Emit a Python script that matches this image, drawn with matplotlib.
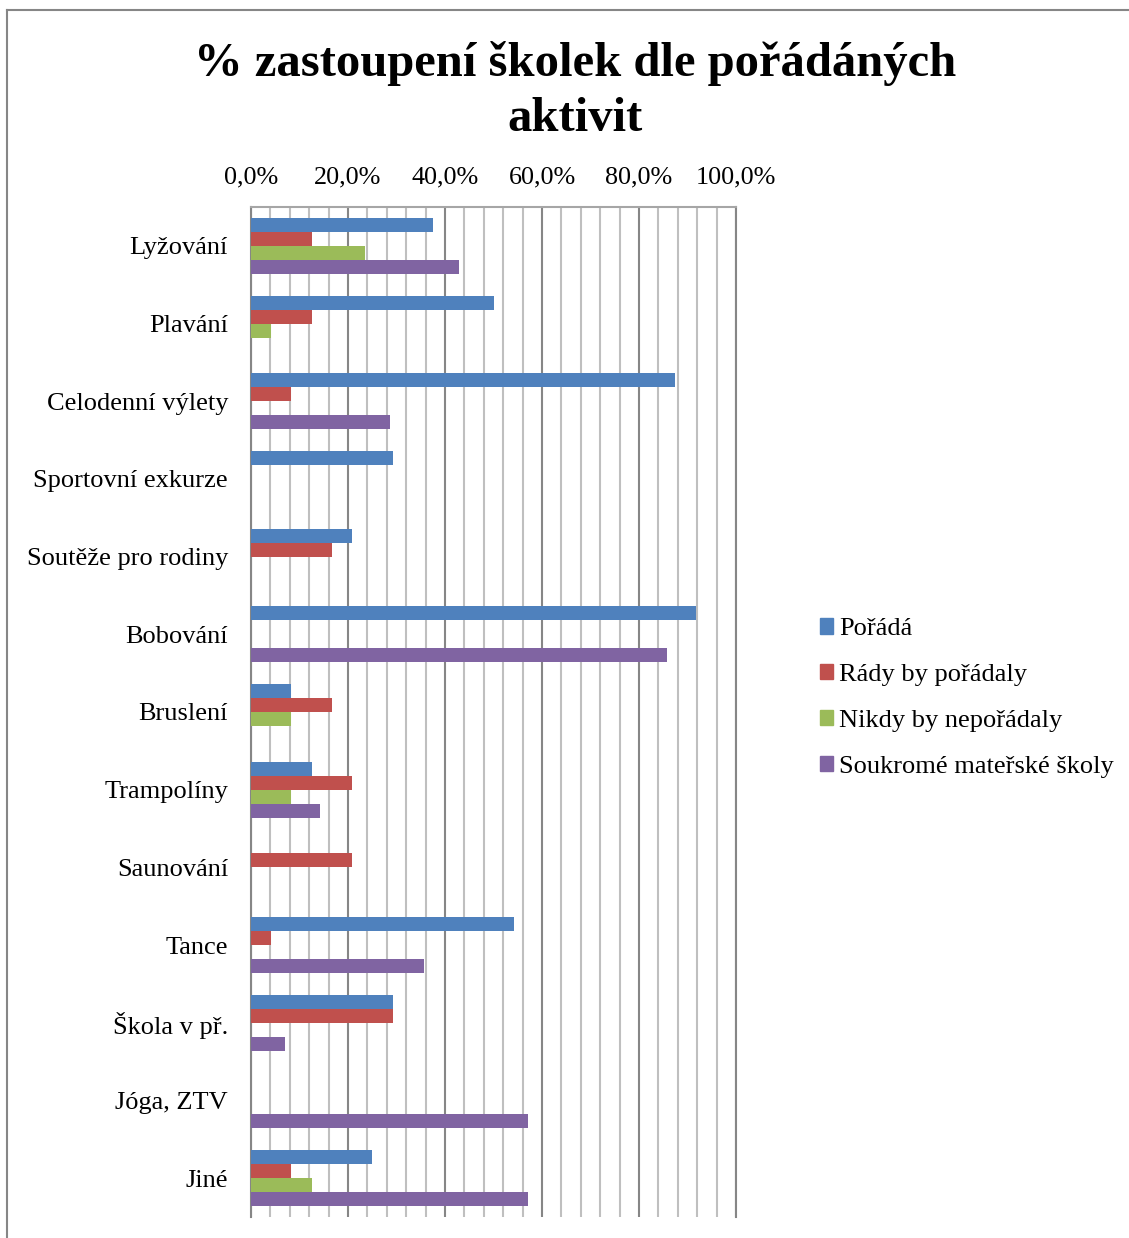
import numpy as np
import matplotlib
matplotlib.use("Agg")
import matplotlib.pyplot as plt
from matplotlib.lines import Line2D
from matplotlib.ticker import MultipleLocator, FuncFormatter

plt.rcParams['font.family'] = ['Liberation Serif', 'DejaVu Serif']

# ---- data (percent) ----
categories = ["Lyžování", "Plavání", "Celodenní výlety", "Sportovní exkurze",
              "Soutěže pro rodiny", "Bobování", "Bruslení", "Trampolíny",
              "Saunování", "Tance", "Škola v př.", "Jóga, ZTV", "Jiné"]
series_names = ["Pořádá", "Rády by pořádaly", "Nikdy by nepořádaly",
                "Soukromé mateřské školy"]
porada = [37.5, 50.0, 87.5, 29.2, 20.8, 91.7, 8.3, 12.5, 0, 54.2, 29.2, 0, 25.0]
rady = [12.5, 12.5, 8.3, 0, 16.7, 0, 16.7, 20.8, 20.8, 4.2, 29.2, 0, 8.3]
nikdy = [23.5, 4.2, 0, 0, 0, 0, 8.3, 8.3, 0, 0, 0, 0, 12.5]
soukrome = [42.9, 0, 28.6, 0, 0, 85.7, 0, 14.3, 0, 35.7, 7.1, 57.1, 57.1]
colors = ["#4F81BD", "#C0504D", "#9BBB59", "#8064A2"]

W, H = 1129, 1238
fig = plt.figure(figsize=(W / 100, H / 100), dpi=100)
ax = fig.add_axes([251 / W, 1 - 1217 / H, 485 / W, (1217 - 207) / H])

y = np.arange(len(categories))
bar_h = 0.18
offsets = [-0.27, -0.09, 0.09, 0.27]
for vals, off, col, name in zip([porada, rady, nikdy, soukrome], offsets, colors, series_names):
    ax.barh(y + off, vals, height=bar_h, color=col, label=name, linewidth=0, zorder=3)

ax.set_xlim(0, 100)
ax.set_ylim(len(categories) - 0.5, -0.5)

# gridlines
ax.xaxis.set_major_locator(MultipleLocator(20))
ax.xaxis.set_minor_locator(MultipleLocator(4))
ax.grid(True, axis='x', which='minor', color='#bfbfbf', linewidth=1.5, zorder=1)
ax.grid(True, axis='x', which='major', color='#868686', linewidth=1.5, zorder=1)

ax.xaxis.tick_top()
ax.xaxis.set_major_formatter(FuncFormatter(lambda v, p: f"{v:.1f}%".replace('.', ',')))
ax.tick_params(axis='x', which='both', length=0, pad=13, labelsize=18.8)
ax.set_yticks(y)
ax.set_yticklabels(categories)
ax.tick_params(axis='y', length=0, pad=16.5, labelsize=19)

ax.spines['bottom'].set_visible(False)
ax.spines['left'].set_color('#868686')
ax.spines['left'].set_linewidth(1.5)
ax.spines['right'].set_color('#868686')
ax.spines['right'].set_linewidth(1.5)
ax.spines['top'].set_color('#a6a6a6')
ax.spines['top'].set_linewidth(1.5)

# title
fig.text(575 / W, 1 - 91 / H, "% zastoupení školek dle pořádáných\naktivit",
         ha='center', va='center', fontsize=35, fontweight='bold', linespacing=1.3)

# legend
handles = [plt.Rectangle((0, 0), 1, 1, color=c) for c in colors]
fig.legend(handles, series_names, loc='center left',
           bbox_to_anchor=(796 / W, 1 - 698 / H), frameon=False,
           fontsize=19, handlelength=0.52, handleheight=0.52,
           handletextpad=0.2, labelspacing=0.9)

# outer chart border
fig.add_artist(Line2D([7 / W, 7 / W], [0, 1 - 10 / H], color='#868686', lw=1.5))
fig.add_artist(Line2D([7 / W, 1], [1 - 10 / H, 1 - 10 / H], color='#868686', lw=1.5))

fig.savefig("out.png", dpi=100)
